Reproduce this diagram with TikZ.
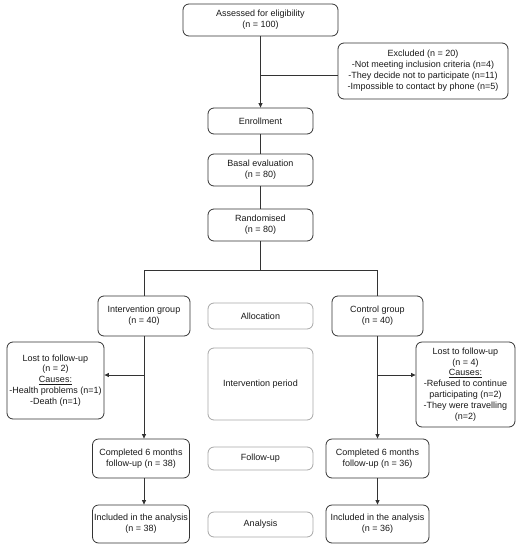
\documentclass[tikz,border=0pt]{standalone}
\usepackage{fontspec}
\setmainfont{Liberation Sans}
\usetikzlibrary{arrows.meta}
\begin{document}
\begin{tikzpicture}[x=1pt,y=-1pt,
  box/.style={draw=black!80, line width=0.8pt, rounded corners=6pt, align=center, inner sep=0pt,
    font=\fontsize{9}{10.9}\selectfont, text=black!90},
  gbox/.style={box, draw=black!35},
  conn/.style={draw=black!80, line width=0.8pt},
  arr/.style={conn, -{Triangle[length=4.5pt,width=4pt]}}]
\useasboundingbox (0,0) rectangle (520,550);
% main column
\node[box, minimum width=155pt, minimum height=32pt] (assess) at (260.5,20) {Assessed for eligibility\\(n = 100)};
\node[box, minimum width=170pt, minimum height=56pt] (excl) at (423,71) {Excluded (n = 20)\\-Not meeting inclusion criteria (n=4)\\-They decide not to participate (n=11)\\-Impossible to contact by phone (n=5)};
\node[box, minimum width=105pt, minimum height=26pt] (enrol) at (260.5,121) {Enrollment};
\node[box, minimum width=105pt, minimum height=32pt] (basal) at (260.5,170) {Basal evaluation\\(n = 80)};
\node[box, minimum width=105pt, minimum height=32pt] (rand) at (260.5,225) {Randomised\\(n = 80)};
% groups
\node[box, minimum width=92pt, minimum height=40pt] (intg) at (144,316) {Intervention group\\(n = 40)};
\node[gbox, minimum width=105pt, minimum height=26pt] (alloc) at (260.5,316) {Allocation};
\node[box, minimum width=91pt, minimum height=40pt] (ctrl) at (377.5,316) {Control group\\(n = 40)};
\node[gbox, minimum width=105pt, minimum height=72pt] (period) at (260.5,384) {Intervention period};
\node[box, minimum width=97pt, minimum height=77pt] (lostl) at (55.5,380.5) {Lost to follow-up\\(n = 2)\\\underline{Causes:}\\-Health problems (n=1)\\-Death (n=1)};
\node[box, minimum width=99pt, minimum height=85pt] (lostr) at (465.5,384.5) {Lost to follow-up\\(n = 4)\\\underline{Causes:}\\-Refused to continue\\participating (n=2)\\-They were travelling\\(n=2)};
\node[box, minimum width=97pt, minimum height=39pt] (compl) at (141,458.5) {Completed 6 months\\follow-up (n = 38)};
\node[gbox, minimum width=105pt, minimum height=23pt] (fu) at (260.5,458.5) {Follow-up};
\node[box, minimum width=103pt, minimum height=39pt] (compr) at (377.5,458.5) {Completed 6 months\\follow-up (n = 36)};
\node[box, minimum width=97pt, minimum height=38pt] (incl) at (141,524) {Included in the analysis\\(n = 38)};
\node[gbox, minimum width=105pt, minimum height=25pt] (anal) at (260.5,524.5) {Analysis};
\node[box, minimum width=103pt, minimum height=38pt] (incr) at (377.5,524) {Included in the analysis\\(n = 36)};
% connectors
\coordinate (bx) at (260.5,75);
\draw[arr] (assess) -- (enrol);
\draw[conn] (bx) -- (bx -| excl.west);
\draw[conn] (enrol) -- (basal);
\draw[conn] (basal) -- (rand);
\coordinate (split) at (260.5,270);
\coordinate (sl) at (144,270);
\coordinate (sr) at (377.5,270);
\draw[conn] (rand) -- (split);
\draw[conn] (sl) -- (sr);
\draw[conn] (sl) -- (intg);
\draw[conn] (sr) -- (ctrl);
\coordinate (bl) at (144,375);
\coordinate (br) at (377.5,375);
\draw[arr] (intg.south -| bl) -- (compl.north -| bl);
\draw[arr] (bl) -- (bl -| lostl.east);
\draw[arr] (ctrl) -- (compr);
\draw[arr] (br) -- (br -| lostr.west);
\draw[arr] (compl.south -| bl) -- (incl.north -| bl);
\draw[arr] (compr) -- (incr);
\end{tikzpicture}
\end{document}
